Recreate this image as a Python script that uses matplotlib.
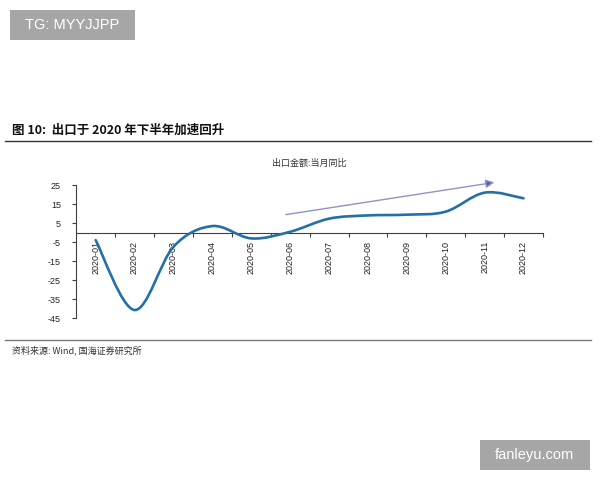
import numpy as np
import matplotlib.pyplot as plt
from matplotlib.path import Path
from matplotlib.patches import PathPatch, FancyArrowPatch, Rectangle
from matplotlib.lines import Line2D

plt.rcParams['font.family'] = ['Liberation Sans', 'Noto Sans CJK SC', 'DejaVu Sans']

months = ['2020-01', '2020-02', '2020-03', '2020-04', '2020-05', '2020-06',
          '2020-07', '2020-08', '2020-09', '2020-10', '2020-11', '2020-12']
export_yoy = [-4.0, -40.8, -7.5, 3.4, -3.1, 0.4, 7.3, 9.0, 9.4, 11.0, 21.0, 18.0]
y_ticks = [25, 15, 5, -5, -15, -25, -35, -45]

# trend arrow (category index, value)
arrow_start = (4.82, 9.2)
arrow_end = (10.32, 26.6)

fig_title = '图 10:  出口于 2020 年下半年加速回升'
chart_title = '出口金额:当月同比'
source_text = '资料来源: Wind, 国海证券研究所'
cjk = ['Noto Sans CJK SC', 'DejaVu Sans']


def smooth_path(x, y):
    # excel-like smoothed line: cubic bezier through every point
    pts = np.column_stack([x, y]).astype(float)
    n = len(pts)
    verts = [pts[0]]
    codes = [Path.MOVETO]
    for i in range(n - 1):
        p0 = pts[i - 1] if i > 0 else pts[i]
        p1 = pts[i]
        p2 = pts[i + 1]
        p3 = pts[i + 2] if i + 2 < n else pts[i + 1]
        verts += [p1 + (p2 - p0) / 6, p2 - (p3 - p1) / 6, p2]
        codes += [Path.CURVE4] * 3
    return Path(verts, codes)


fig = plt.figure(figsize=(6, 4.8), dpi=100)
ax = fig.add_axes([0.127, 0.3375, 0.778, 0.277])

x = np.arange(len(months))
ax.add_patch(PathPatch(smooth_path(x, export_yoy), facecolor='none',
                       edgecolor='#2370a6', lw=1.9, capstyle='round', zorder=3))

ax.set_xlim(-0.5, len(months) - 0.5)
ax.set_ylim(-45, 25)

ax.spines['right'].set_color('none')
ax.spines['top'].set_color('none')
ax.spines['bottom'].set_position(('data', 0))
ax.spines['bottom'].set_color('#404040')
ax.spines['left'].set_color('#404040')

ax.set_yticks(y_ticks)
ax.set_yticklabels([str(v) for v in y_ticks], fontsize=6.5, color='#222222')
ax.tick_params(axis='y', length=3, width=0.8, color='#404040', pad=8)

ax.set_xticks(x)
ax.set_xticklabels(months, rotation=90, fontsize=6.5, color='#222222')
ax.set_xticks(np.arange(len(months)) + 0.5, minor=True)
ax.tick_params(axis='x', which='major', length=0, pad=6)
ax.tick_params(axis='x', which='minor', length=3, width=0.8, color='#404040')
for lbl in ax.get_xticklabels():
    lbl.set_va('top')

arr = FancyArrowPatch(arrow_start, arrow_end, arrowstyle='-|>,head_length=5,head_width=2.5',
                      color='#8f93c4', lw=1.0, clip_on=False, zorder=2)
ax.add_patch(arr)
arr.set_facecolor('#4a64a8')

ax.set_title(chart_title, family=cjk, fontsize=6.5, color='#333333', pad=14)

# page decorations
fig.text(0.02, 0.728, fig_title, family=cjk, fontsize=9, fontweight='bold',
         color='#111111', va='center')
fig.add_artist(Line2D([0.008, 0.985], [0.706, 0.706], color='#333333', lw=1.0))
fig.add_artist(Line2D([0.008, 0.985], [0.292, 0.292], color='#777777', lw=1.0))
fig.text(0.02, 0.27, source_text, family=cjk, fontsize=6.5, color='#333333', va='center')

fig.add_artist(Rectangle((0.017, 0.917), 0.208, 0.063, transform=fig.transFigure,
                         facecolor='#a6a6a6', edgecolor='none'))
fig.text(0.121, 0.948, 'TG: MYYJJPP', fontsize=10.5, color='white',
         ha='center', va='center')
fig.add_artist(Rectangle((0.8, 0.021), 0.183, 0.063, transform=fig.transFigure,
                         facecolor='#a6a6a6', edgecolor='none'))
fig.text(0.891, 0.052, 'fanleyu.com', fontsize=10.5, color='white',
         ha='center', va='center')

fig.savefig('out.png', dpi=100, facecolor='white')
